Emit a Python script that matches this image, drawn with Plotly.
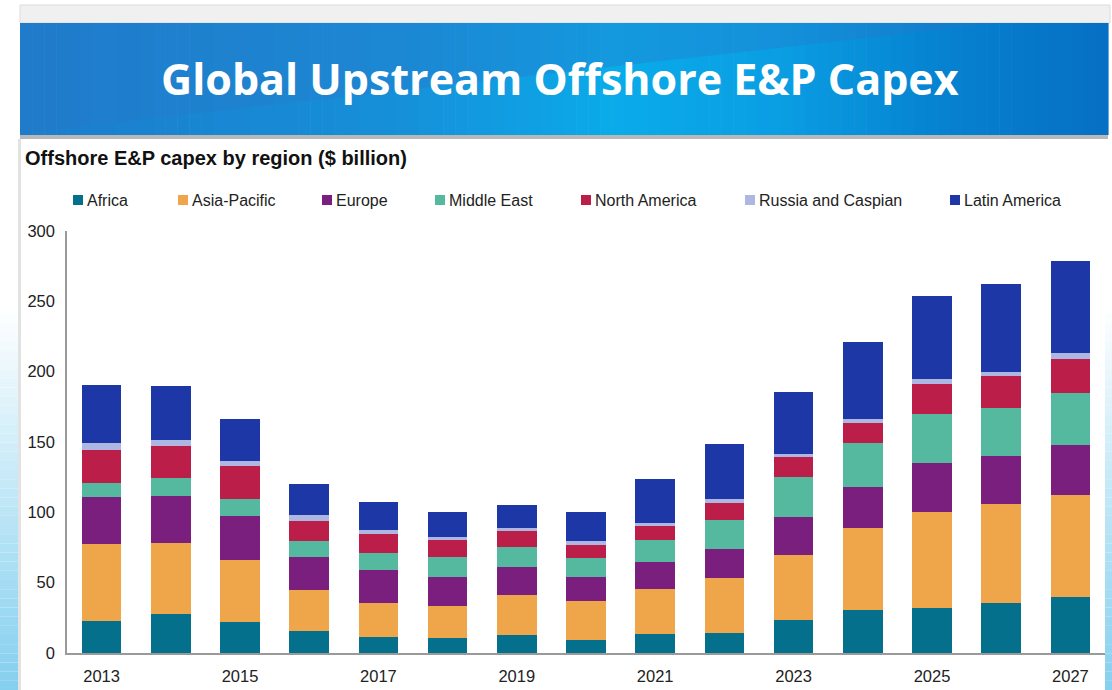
import plotly.graph_objects as go

# Offshore E&P capital expenditure by region, $ billion
years = list(range(2013, 2028))
regions = ["Africa", "Asia-Pacific", "Europe", "Middle East",
           "North America", "Russia and Caspian", "Latin America"]

africa = [22.7, 27.5, 22.0, 15.5, 11.1, 10.6, 12.7, 9.1, 13.2, 13.9, 23.4, 30.3, 32.2, 35.3, 39.8]
asia_pacific = [54.7, 50.4, 44.0, 29.1, 24.4, 22.8, 28.3, 27.8, 32.6, 39.7, 46.3, 58.7, 67.7, 70.6, 72.7]
europe = [33.3, 33.9, 31.5, 23.7, 23.8, 20.4, 20.0, 17.1, 18.9, 20.4, 27.1, 28.8, 35.0, 34.0, 35.2]
middle_east = [9.9, 12.4, 11.9, 11.0, 12.1, 14.1, 14.2, 13.4, 15.7, 20.3, 28.1, 31.4, 35.2, 34.4, 37.3]
north_america = [24.0, 22.8, 23.4, 14.7, 13.1, 12.3, 11.6, 9.2, 10.0, 12.1, 14.7, 14.4, 20.8, 22.4, 24.3]
russia_caspian = [4.8, 4.7, 3.5, 4.0, 3.1, 2.4, 1.8, 2.7, 1.9, 2.8, 1.9, 2.9, 3.6, 3.1, 4.0]
latin_america = [41.3, 38.1, 29.7, 22.1, 19.5, 17.8, 16.8, 20.7, 31.4, 39.5, 44.0, 54.7, 59.2, 62.4, 65.6]

series = [africa, asia_pacific, europe, middle_east, north_america, russia_caspian, latin_america]
colors = ["#05708C", "#EFA64B", "#7A1F7E", "#55B9A0", "#BC1E4A", "#AEB6E2", "#1D37A7"]

y_ticks = [0, 50, 100, 150, 200, 250, 300]
x_ticks = [2013, 2015, 2017, 2019, 2021, 2023, 2025, 2027]

W, H = 1112, 690
L, R, T, B = 67, 1105, 231, 653  # plot area in pixels


def fx(px):
    return (px - L) / (R - L)


def fy(py):
    return (B - py) / (B - T)


def lerp_color(stops, t):
    for (t0, c0), (t1, c1) in zip(stops, stops[1:]):
        if t0 <= t <= t1:
            k = (t - t0) / (t1 - t0) if t1 > t0 else 0
            a = [int(c0[i:i + 2], 16) for i in (1, 3, 5)]
            b = [int(c1[i:i + 2], 16) for i in (1, 3, 5)]
            return "#%02x%02x%02x" % tuple(round(a[j] + (b[j] - a[j]) * k) for j in range(3))
    return stops[-1][1]


fig = go.Figure()
for name, vals, col in zip(regions, series, colors):
    fig.add_trace(go.Bar(x=years, y=vals, name=name, marker=dict(color=col, line=dict(width=0)),
                         showlegend=False))

shapes = []

# side strips: white fading into light sky blue towards the bottom
side_stops = [(0.0, "#ffffff"), (0.3, "#ffffff"), (0.55, "#d2eef9"), (1.0, "#86d0ef")]
n = 60
for i in range(n):
    y0 = 140 + (H - 140) * i / n
    y1 = 140 + (H - 140) * (i + 1) / n
    c = lerp_color(side_stops, i / (n - 1))
    for xa, xb in ((0, 20), (1105, W)):
        shapes.append(dict(type="rect", xref="paper", yref="paper", layer="below",
                           x0=fx(xa), x1=fx(xb), y0=fy(y1), y1=fy(y0),
                           fillcolor=c, line=dict(width=0)))

# light grey strip above the banner
shapes.append(dict(type="rect", xref="paper", yref="paper", layer="below",
                   x0=fx(20), x1=fx(1110), y0=fy(23), y1=fy(5),
                   fillcolor="#f0f0f0", line=dict(color="#dcdcdc", width=1)))
# thin shadow under the banner and down the left edge
shapes.append(dict(type="rect", xref="paper", yref="paper", layer="below",
                   x0=fx(20), x1=fx(1108), y0=fy(139), y1=fy(134),
                   fillcolor="#b8b8b8", line=dict(width=0)))
shapes.append(dict(type="rect", xref="paper", yref="paper", layer="below",
                   x0=fx(18), x1=fx(21), y0=fy(H), y1=fy(139),
                   fillcolor="#e2e2e2", line=dict(width=0)))

# blue banner with a horizontal gradient
banner_stops = [(0.0, "#1c7dcc"), (0.35, "#1690d9"), (0.55, "#0aabea"),
                (0.7, "#0a9ee3"), (0.85, "#0682d0"), (1.0, "#0670c4")]
nb = 90
bx0, bx1 = 20, 1108
for i in range(nb):
    xa = bx0 + (bx1 - bx0) * i / nb
    xb = bx0 + (bx1 - bx0) * (i + 1) / nb + 0.6
    shapes.append(dict(type="rect", xref="paper", yref="paper", layer="below",
                       x0=fx(xa), x1=fx(xb), y0=fy(135), y1=fy(23),
                       fillcolor=lerp_color(banner_stops, i / (nb - 1)), line=dict(width=0)))

# softer upper-left band above the banner's diagonal
path = "M {a},{b} L {c},{d} L {e},{f} Z".format(
    a=fx(20), b=fy(23), c=fx(1000), d=fy(23), e=fx(20), f=fy(133))
shapes.append(dict(type="path", xref="paper", yref="paper", layer="below", path=path,
                   fillcolor="rgba(40,120,200,0.35)", line=dict(width=0)))

# legend squares
legend_x = [73, 178, 322, 435, 581, 745, 950]
for lx, col in zip(legend_x, colors):
    shapes.append(dict(type="rect", xref="paper", yref="paper",
                       x0=fx(lx), x1=fx(lx + 10), y0=fy(205), y1=fy(195),
                       fillcolor=col, line=dict(width=0)))

annotations = [
    dict(text="<b>Global Upstream Offshore E&P Capex</b>", xref="paper", yref="paper",
         x=fx(560), y=fy(78), xanchor="center", yanchor="middle", showarrow=False,
         font=dict(family="Open Sans", size=43, color="white")),
    dict(text="<b>Offshore E&P capex by region ($ billion)</b>", xref="paper", yref="paper",
         x=fx(23), y=fy(158), xanchor="left", yanchor="middle", showarrow=False,
         font=dict(family="Liberation Sans", size=20, color="#111111")),
]
for lx, name in zip(legend_x, regions):
    annotations.append(dict(text=name, xref="paper", yref="paper", x=fx(lx + 12), y=fy(200),
                            xanchor="left", yanchor="middle", showarrow=False,
                            font=dict(family="Liberation Sans", size=16, color="#222222")))

fig.update_layout(
    width=W, height=H,
    margin=dict(l=L, r=W - R, t=T, b=H - B, pad=0, autoexpand=False),
    paper_bgcolor="white", plot_bgcolor="rgba(0,0,0,0)",
    barmode="stack", bargap=0.43,
    shapes=shapes, annotations=annotations,
    font=dict(family="Liberation Sans", size=16, color="#222222"),
    xaxis=dict(range=[2012.5, 2027.5], tickvals=x_ticks, ticktext=[str(v) for v in x_ticks],
               showgrid=False, zeroline=False, showline=True, linecolor="#9a9a9a", linewidth=1.5,
               ticks="", ticklabelstandoff=7, tickfont=dict(size=16.5), automargin=False),
    yaxis=dict(range=[0, 300], tickvals=y_ticks, showgrid=False, zeroline=False,
               showline=True, linecolor="#9a9a9a", linewidth=1.5, ticks="",
               ticklabelstandoff=7, tickfont=dict(size=16.5), automargin=False),
)

fig.write_html("out.html")
